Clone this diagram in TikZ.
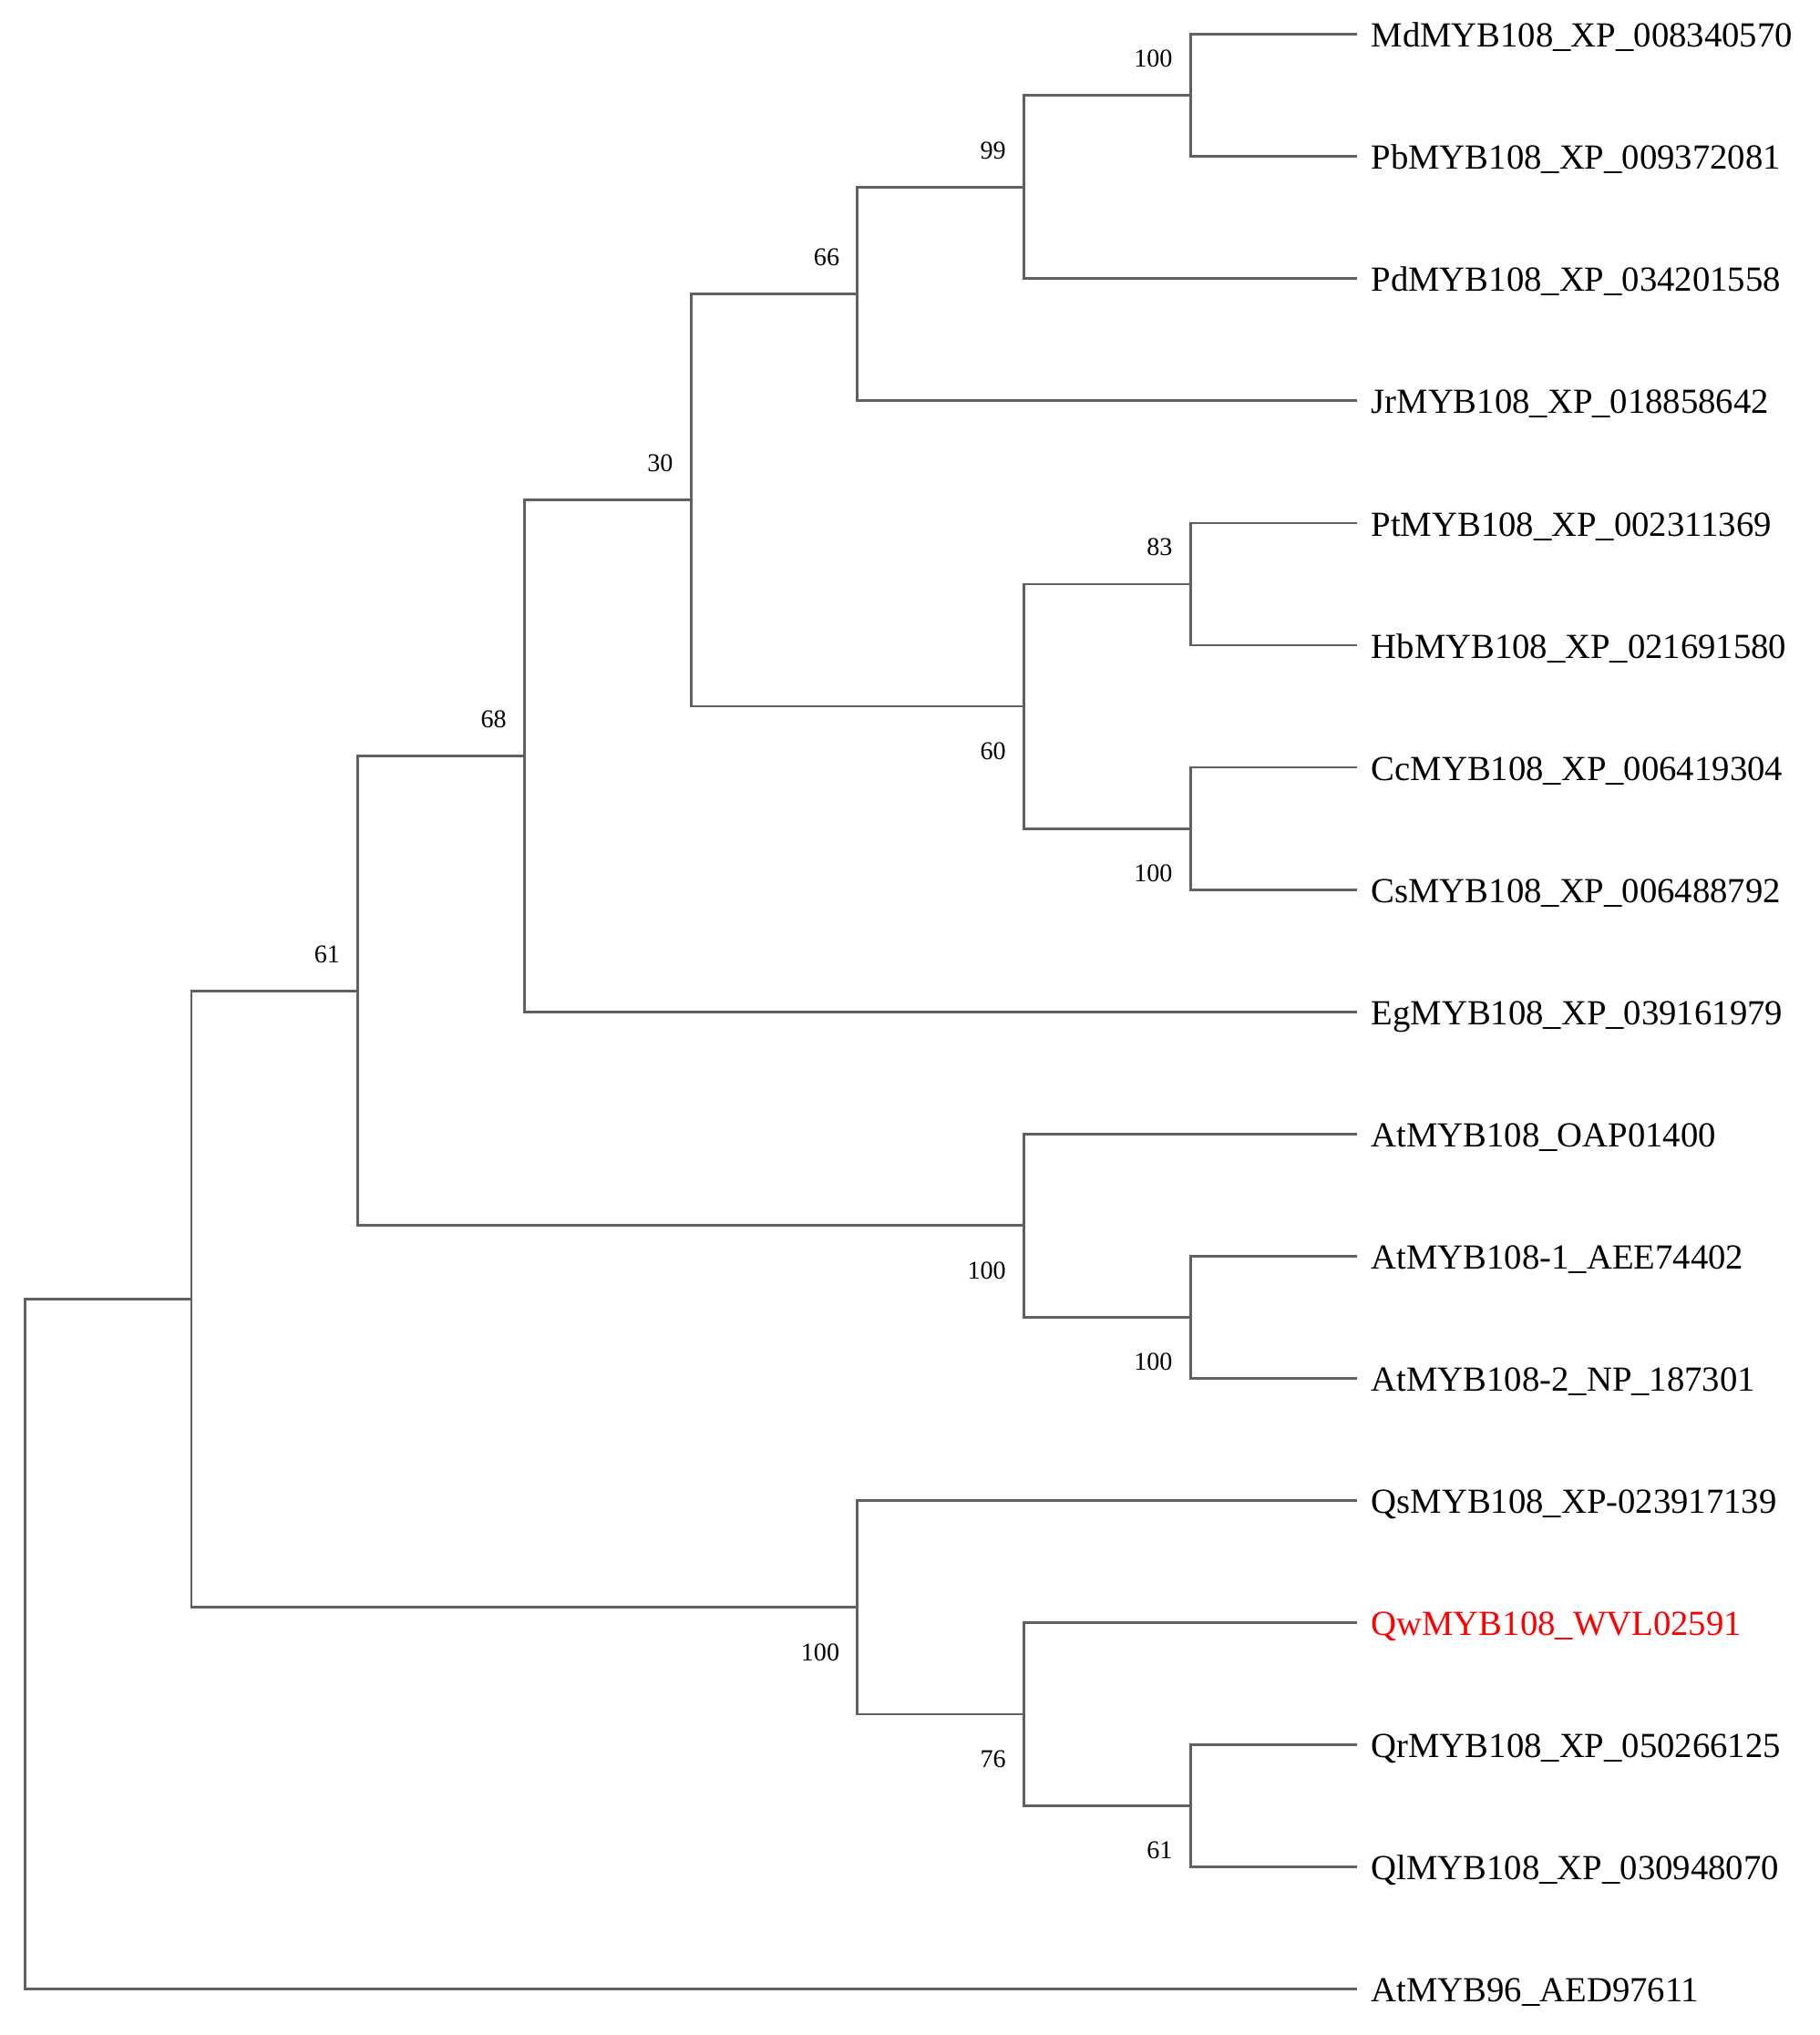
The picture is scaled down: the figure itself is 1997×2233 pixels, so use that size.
\documentclass[tikz,border=0pt]{standalone}
\usepackage{fontspec}
\setmainfont{Liberation Serif}
\usepackage{tikz}
\usetikzlibrary{positioning}
\definecolor{treegray}{RGB}{96,96,96}

\begin{document}
\begin{tikzpicture}[x=0.01cm,y=-0.01cm,
    branch/.style={draw=treegray,line width=0.8pt},
    leaf/.style={anchor=west,inner xsep=0.15cm,inner ysep=0pt,text height=0.8em,text depth=0pt,font=\fontsize{11}{13}\selectfont},
    bsup/.style={anchor=south east,inner sep=0pt,xshift=-0.19cm,yshift=0.3cm,font=\fontsize{8}{9}\selectfont},
    bsdown/.style={anchor=north east,inner sep=0pt,xshift=-0.19cm,yshift=-0.39cm,font=\fontsize{8}{9}\selectfont}]
        \useasboundingbox (0,0) rectangle (1997,2233);
        % Leaves
        \foreach \i/\name/\col in {0/MdMYB108\_XP\_008340570/black, 1/PbMYB108\_XP\_009372081/black,
            2/PdMYB108\_XP\_034201558/black, 3/JrMYB108\_XP\_018858642/black,
            4/PtMYB108\_XP\_002311369/black, 5/HbMYB108\_XP\_021691580/black,
            6/CcMYB108\_XP\_006419304/black, 7/CsMYB108\_XP\_006488792/black,
            8/EgMYB108\_XP\_039161979/black, 9/AtMYB108\_OAP01400/black,
            10/AtMYB108-1\_AEE74402/black, 11/AtMYB108-2\_NP\_187301/black,
            12/QsMYB108\_XP-023917139/black, 13/QwMYB108\_WVL02591/red,
            14/QrMYB108\_XP\_050266125/black, 15/QlMYB108\_XP\_030948070/black,
            16/AtMYB96\_AED97611/black}
            \node[leaf,text=\col] (l\i) at (1489,{37.7+134.06*\i}) {\name};
        % Internal nodes
        \coordinate (n100a) at (1306.2,104.73);
        \coordinate (n99) at (1123.5,205.28);
        \coordinate (n66) at (940.8,322.58);
        \coordinate (n83) at (1306.2,640.97);
        \coordinate (n100b) at (1306.2,909.09);
        \coordinate (n60) at (1123.5,775.03);
        \coordinate (n30) at (758.1,548.82);
        \coordinate (n68) at (575.4,829.48);
        \coordinate (n100c) at (1306.2,1445.33);
        \coordinate (n100d) at (1123.5,1344.79);
        \coordinate (n61a) at (392.7,1087.14);
        \coordinate (n61b) at (1306.2,1981.57);
        \coordinate (n76) at (1123.5,1881.03);
        \coordinate (n100e) at (940.8,1763.72);
        \coordinate (nL1) at (210.0,1425.43);
        \coordinate (root) at (27.3,1804.05);
        % Branches
        \draw[branch] (n100a) |- (l0.west) (n100a) |- (l1.west);
        \draw[branch] (n99) |- (n100a) (n99) |- (l2.west);
        \draw[branch] (n66) |- (n99) (n66) |- (l3.west);
        \draw[branch] (n83) |- (l4.west) (n83) |- (l5.west);
        \draw[branch] (n100b) |- (l6.west) (n100b) |- (l7.west);
        \draw[branch] (n60) |- (n83) (n60) |- (n100b);
        \draw[branch] (n30) |- (n66) (n30) |- (n60);
        \draw[branch] (n68) |- (n30) (n68) |- (l8.west);
        \draw[branch] (n100c) |- (l10.west) (n100c) |- (l11.west);
        \draw[branch] (n100d) |- (l9.west) (n100d) |- (n100c);
        \draw[branch] (n61a) |- (n68) (n61a) |- (n100d);
        \draw[branch] (n61b) |- (l14.west) (n61b) |- (l15.west);
        \draw[branch] (n76) |- (l13.west) (n76) |- (n61b);
        \draw[branch] (n100e) |- (l12.west) (n100e) |- (n76);
        \draw[branch] (nL1) |- (n61a) (nL1) |- (n100e);
        \draw[branch] (root) |- (nL1) (root) |- (l16.west);
        % Bootstrap values
        \node[bsup] (b100a) at (n100a) {100};
        \node[bsup] (b99) at (n99) {99};
        \node[bsup] (b66) at (n66) {66};
        \node[bsup] (b30) at (n30) {30};
        \node[bsup] (b68) at (n68) {68};
        \node[bsup] (b61a) at (n61a) {61};
        \node[bsup] (b83) at (n83) {83};
        \node[bsdown] (b60) at (n60) {60};
        \node[bsdown] (b100b) at (n100b) {100};
        \node[bsdown] (b100d) at (n100d) {100};
        \node[bsdown] (b100c) at (n100c) {100};
        \node[bsdown] (b100e) at (n100e) {100};
        \node[bsdown] (b76) at (n76) {76};
        \node[bsdown] (b61b) at (n61b) {61};
    \end{tikzpicture}
\end{document}
